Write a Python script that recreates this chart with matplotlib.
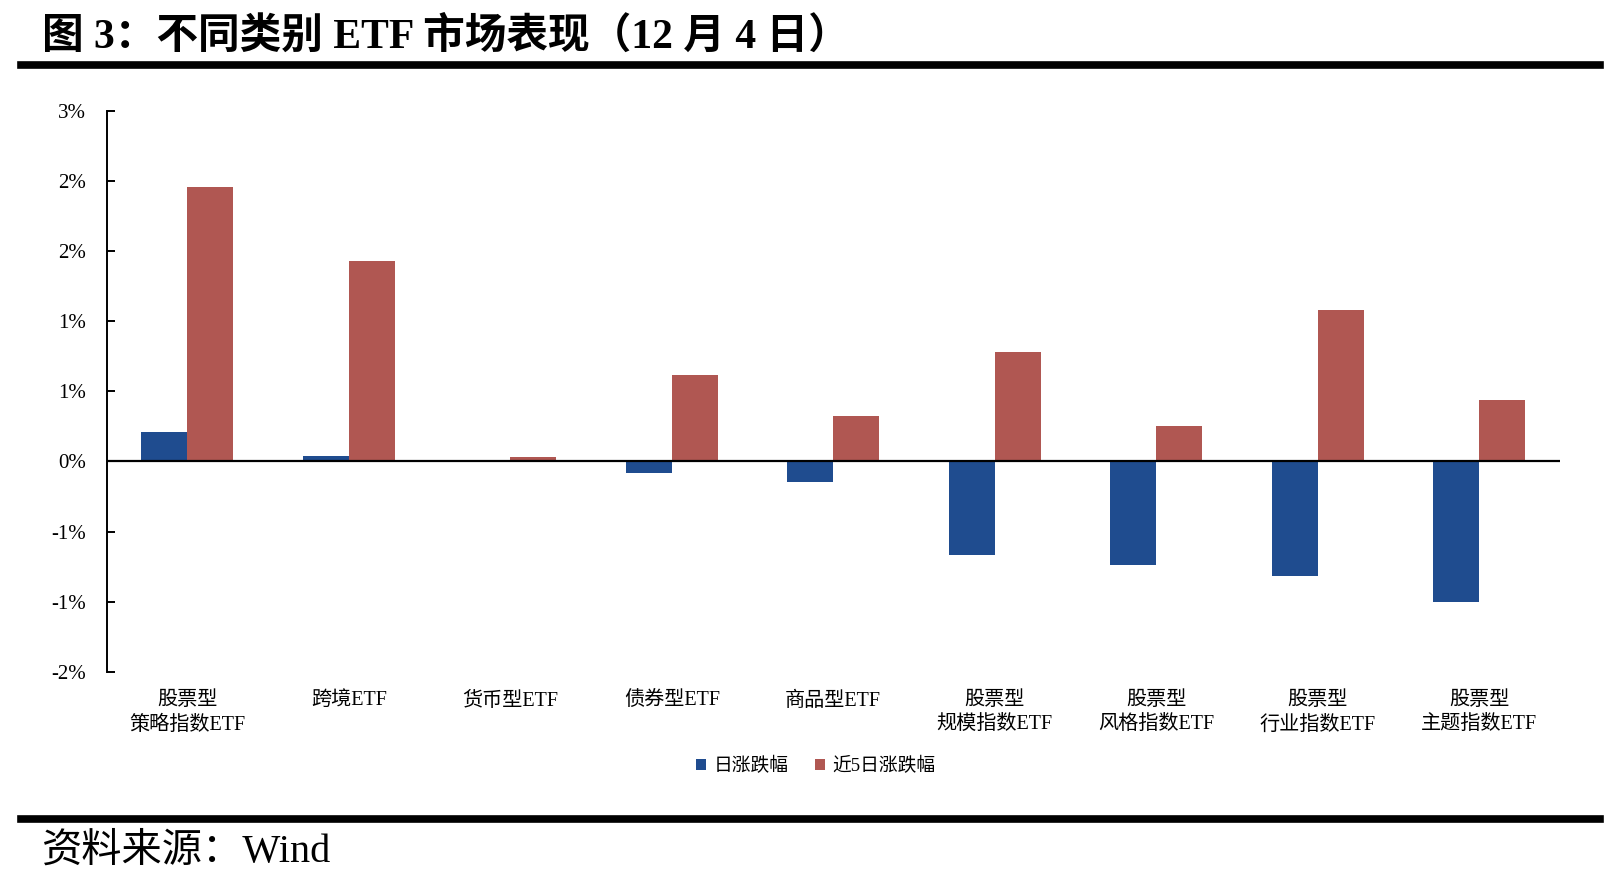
import matplotlib
matplotlib.use("Agg")
import matplotlib.pyplot as plt
import numpy as np
from matplotlib.lines import Line2D
from matplotlib.ticker import FuncFormatter, MultipleLocator

plt.rcParams["font.family"] = ["Liberation Serif", "Noto Sans CJK SC", "DejaVu Sans"]

categories = [
    "股票型\n策略指数ETF",
    "跨境ETF",
    "货币型ETF",
    "债券型ETF",
    "商品型ETF",
    "股票型\n规模指数ETF",
    "股票型\n风格指数ETF",
    "股票型\n行业指数ETF",
    "股票型\n主题指数ETF",
]
# values in percent
daily_change = [0.209, 0.036, 0.0, -0.083, -0.148, -0.664, -0.74, -0.813, -1.0]
five_day_change = [1.958, 1.43, 0.03, 0.614, 0.321, 0.777, 0.255, 1.078, 0.435]
series_names = ["日涨跌幅", "近5日涨跌幅"]

BLUE = "#1F4C8F"
RED = "#B05752"


def excel_pct(v, _pos=None):
    r = np.sign(v) * np.floor(abs(v) + 0.5 + 1e-9)
    return f"{int(r)}%"


fig = plt.figure(figsize=(16.08, 8.8), dpi=100)
ax = fig.add_axes([0.0663, 0.2364, 0.9037, 0.6378])

x = np.arange(len(categories))
w = 0.285
ax.bar(x - w / 2, daily_change, width=w, color=BLUE, label=series_names[0])
ax.bar(x + w / 2, five_day_change, width=w, color=RED, label=series_names[1])
ax.axhline(0, color="black", linewidth=1.6, zorder=3)

ax.set_xlim(-0.5, len(categories) - 0.5)
ax.set_ylim(-1.5, 2.5)
ax.yaxis.set_major_locator(MultipleLocator(0.5))
ax.yaxis.set_major_formatter(FuncFormatter(excel_pct))
ax.set_xticks(x, labels=categories)
ax.tick_params(axis="x", length=0, pad=14, labelsize=14.5)
ax.tick_params(axis="y", direction="in", length=6, width=1.4, pad=15, labelsize=15)
for lbl in ax.get_xticklabels():
    lbl.set_linespacing(1.35)
    lbl.set_verticalalignment("top")

for side in ("top", "right", "bottom"):
    ax.spines[side].set_visible(False)
ax.spines["left"].set_linewidth(1.4)

ax.legend(
    loc="center",
    bbox_to_anchor=(0.488, -0.168),
    ncol=2,
    frameon=False,
    fontsize=13.5,
    handlelength=0.55,
    handleheight=0.55,
    handletextpad=0.4,
    columnspacing=1.4,
)

# header and footer
fig.text(0.026, 0.958, "图 3：不同类别 ETF 市场表现（12 月 4 日）", fontsize=30,
         fontweight="bold", ha="left", va="center")
fig.add_artist(Line2D([0.0128, 0.995], [0.926, 0.926], color="black", linewidth=5.5,
                      transform=fig.transFigure))
fig.add_artist(Line2D([0.0128, 0.995], [0.0695, 0.0695], color="black", linewidth=5.5,
                      transform=fig.transFigure))
fig.text(0.026, 0.032, "资料来源：Wind", fontsize=29, ha="left", va="center")

fig.savefig("out.png", dpi=100)
